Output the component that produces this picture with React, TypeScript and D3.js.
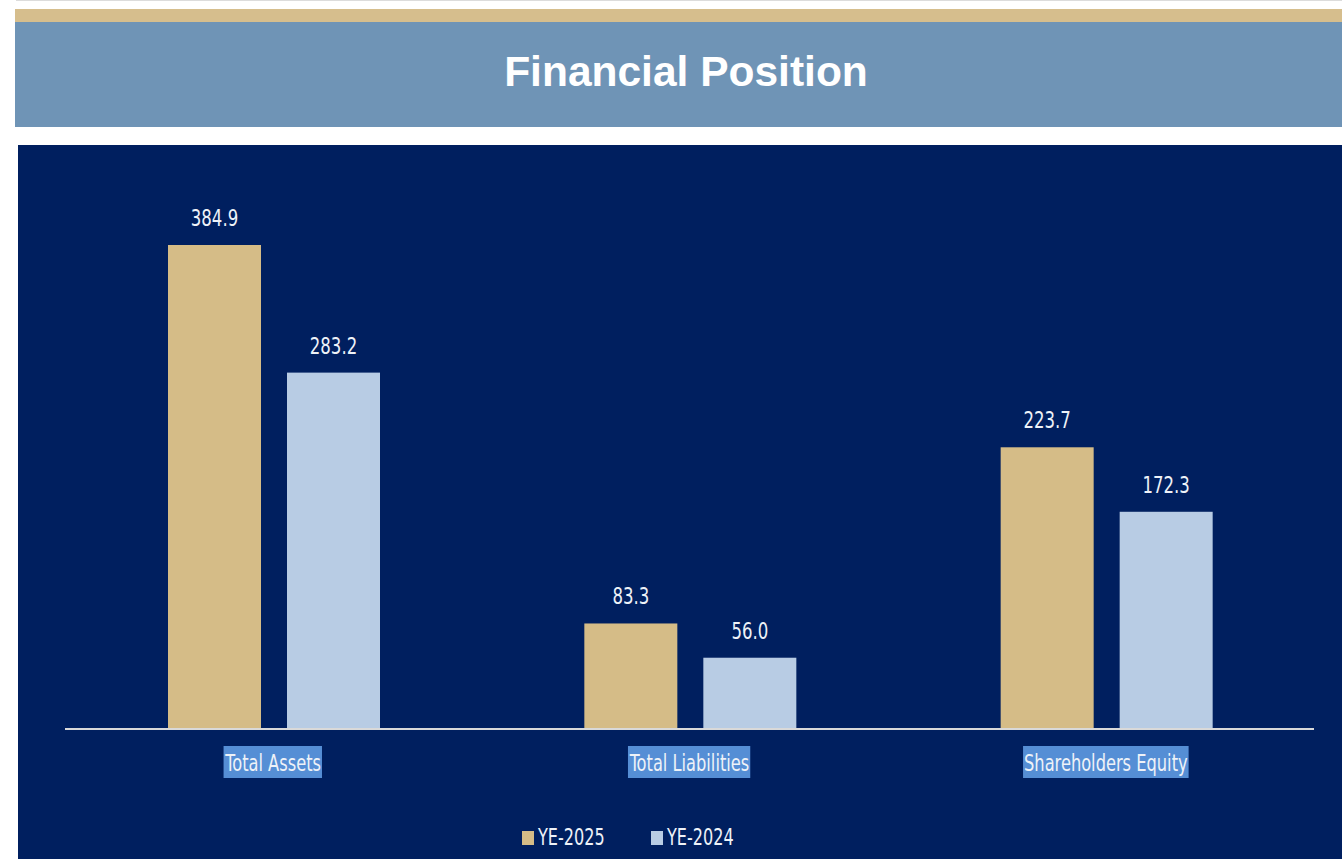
import React, { useEffect, useRef } from 'react'
import * as d3 from 'd3'

const categories = ['Total Assets', 'Total Liabilities', 'Shareholders Equity']
const seriesNames = ['YE-2025', 'YE-2024']
const ye2025 = [384.9, 83.3, 223.7]
const ye2024 = [283.2, 56.0, 172.3]
const seriesColors = ['#D5BC87', '#B8CCE4']

const W = 1342
const H = 859
const FONT = '"Liberation Sans Narrow", "DejaVu Sans Condensed", "Arial Narrow", sans-serif'
const FS = 23

// squeeze the condensed fallback so it looks like Calibri
function narrow(sel: d3.Selection<SVGTextElement, any, any, any>, k = 0.8) {
  sel.each(function () {
    const len = this.getComputedTextLength()
    d3.select(this).attr('textLength', len * k).attr('lengthAdjust', 'spacingAndGlyphs')
  })
}

export default function App() {
  const ref = useRef<SVGSVGElement>(null)

  useEffect(() => {
    const svg = d3.select(ref.current)
    svg.selectAll('*').remove()

    // header strips
    svg.append('rect').attr('x', 16).attr('y', 0).attr('width', W - 16).attr('height', 1).attr('fill', '#DCDCDC')
    svg.append('rect').attr('x', 15).attr('y', 9).attr('width', W - 15).attr('height', 13).attr('fill', '#D6BE8D')
    svg.append('rect').attr('x', 15).attr('y', 22).attr('width', W - 15).attr('height', 105).attr('fill', '#6F94B6')
    svg.append('text')
      .attr('x', 686).attr('y', 86)
      .attr('text-anchor', 'middle')
      .attr('fill', '#ffffff')
      .attr('font-family', '"Liberation Sans", Arial, sans-serif')
      .attr('font-weight', 'bold')
      .attr('font-size', 42.5)
      .text('Financial Position')

    // chart panel
    svg.append('rect').attr('x', 18).attr('y', 145).attr('width', W - 18).attr('height', H - 145).attr('fill', '#001F5F')

    const baseY = 728
    const x0 = d3.scaleBand().domain(categories).range([65, 1314]).paddingInner(0).paddingOuter(0)
    const x1 = d3.scaleBand().domain(seriesNames).range([103, 315]).paddingInner(26 / 119).paddingOuter(0)
    const y = d3.scaleLinear().domain([0, 384.9]).range([baseY, 245])

    const rows = categories.map((c, i) => ({ cat: c, vals: [ye2025[i], ye2024[i]] }))

    const groups = svg.selectAll('g.grp').data(rows).enter().append('g')
      .attr('class', 'grp')
      .attr('transform', d => `translate(${x0(d.cat)},0)`)

    groups.selectAll('rect').data(d => d.vals.map((v, j) => ({ v, s: seriesNames[j], j }))).enter().append('rect')
      .attr('x', d => x1(d.s)!)
      .attr('y', d => y(d.v))
      .attr('width', x1.bandwidth())
      .attr('height', d => baseY - y(d.v))
      .attr('fill', d => seriesColors[d.j])

    const vals = groups.selectAll('text.val').data(d => d.vals.map((v, j) => ({ v, s: seriesNames[j] }))).enter().append('text')
      .attr('class', 'val')
      .attr('x', d => x1(d.s)! + x1.bandwidth() / 2)
      .attr('y', d => y(d.v) - 19)
      .attr('text-anchor', 'middle')
      .attr('fill', '#EEF2F8')
      .attr('font-family', FONT)
      .attr('font-size', FS)
      .text(d => d.v.toFixed(1))
    narrow(vals as any, 0.8)

    // axis line
    svg.append('line').attr('x1', 65).attr('x2', 1314).attr('y1', baseY + 1).attr('y2', baseY + 1)
      .attr('stroke', '#D9D9D9').attr('stroke-width', 2)

    // category labels with highlight
    categories.forEach(c => {
      const cx = x0(c)! + x0.bandwidth() / 2
      const t = svg.append('text')
        .attr('x', cx).attr('y', 771)
        .attr('text-anchor', 'middle')
        .attr('fill', '#EEF2F8')
        .attr('font-family', FONT)
        .attr('font-size', FS)
        .text(c)
      narrow(t as any, 0.785)
      const bb = (t.node() as SVGTextElement).getBBox()
      svg.insert('rect', () => t.node())
        .attr('x', bb.x - 1).attr('y', 746).attr('width', bb.width + 2).attr('height', 32)
        .attr('fill', '#558ED5')
    })

    // legend
    const legend = [{ name: seriesNames[0], x: 522 }, { name: seriesNames[1], x: 651 }]
    legend.forEach((l, i) => {
      svg.append('rect').attr('x', l.x).attr('y', 831).attr('width', 12).attr('height', 14).attr('fill', seriesColors[i])
      const t = svg.append('text')
        .attr('x', l.x + 16).attr('y', 845)
        .attr('fill', '#EEF2F8')
        .attr('font-family', FONT)
        .attr('font-size', FS)
        .text(l.name)
      narrow(t as any, 0.776)
    })
  }, [])

  return (
    <div style={{ position: 'fixed', left: 0, top: 0, width: W, height: H, background: '#fff' }}>
      <svg ref={ref} width={W} height={H} style={{ display: 'block' }} />
    </div>
  )
}
